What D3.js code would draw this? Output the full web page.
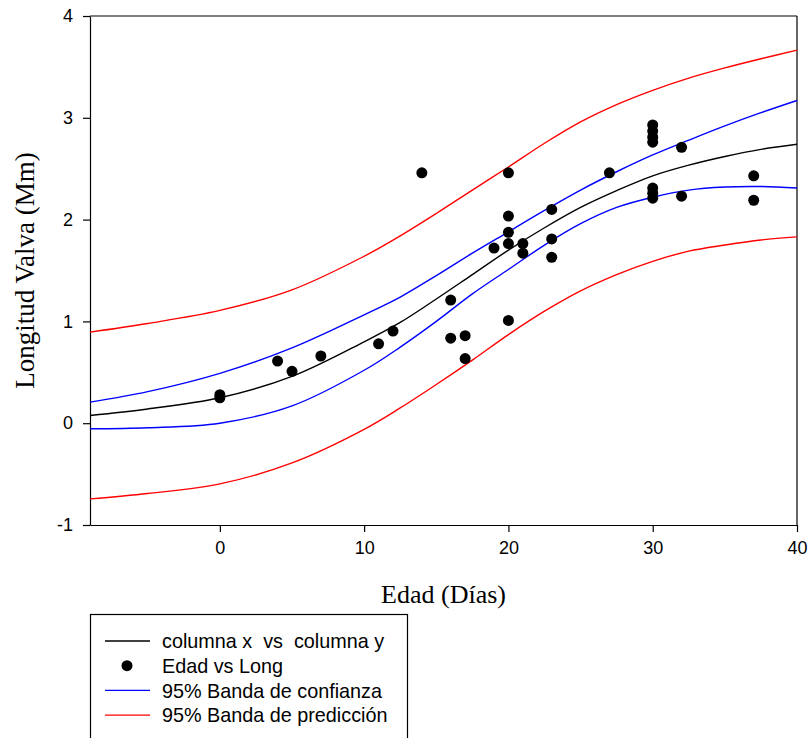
<!DOCTYPE html>
<html>
<head>
<meta charset="utf-8">
<script src="https://cdn.jsdelivr.net/npm/d3@7"></script>
<style>
  html, body { margin: 0; padding: 0; background: #fff; }
  svg { display: block; }
</style>
</head>
<body>
<svg id="chart" width="811" height="738"></svg>
<script>
// ---- Data ----
const xTicks = [0, 10, 20, 30, 40];
const yTicks = [-1, 0, 1, 2, 3, 4];

// Observed points: Edad vs Long
const edad = [0, 0, 4, 5, 7, 11, 12, 14, 16, 16, 17, 17, 19, 20, 20, 20, 20, 20, 21, 21,
              23, 23, 23, 27, 30, 30, 30, 30, 30, 30, 30, 32, 32, 37, 37];
const longitud = [0.28, 0.25, 0.61, 0.51, 0.66, 0.78, 0.905, 2.46, 1.21, 0.835, 0.86, 0.635, 1.72,
                  2.46, 2.035, 1.875, 1.765, 1.01, 1.765, 1.67,
                  2.10, 1.81, 1.63, 2.46, 2.93, 2.87, 2.81, 2.76, 2.31, 2.26, 2.21, 2.71, 2.23, 2.43, 2.19];

// Curves sampled at common x positions
const curveX =     [-9,    -5,    0,     5,     10,    12.5,  15,   17.5, 20,    22.5, 25,   27.5,  30,    32.5,  35,   37.5,  40];
const fitY =       [0.076, 0.14,  0.25,  0.46,  0.80,  0.99,  1.22, 1.46, 1.70,  1.92, 2.12, 2.285, 2.43,  2.535, 2.62, 2.69,  2.74];
const confUpper =  [0.207, 0.31,  0.49,  0.74,  1.065, 1.239, 1.45, 1.67, 1.88,  2.09, 2.29, 2.47,  2.635, 2.78,  2.92, 3.05,  3.17];
const confLower =  [-0.055,-0.045,0.0,   0.17,  0.52,  0.747, 1.0,  1.27, 1.51,  1.75, 1.96, 2.12,  2.22,  2.29,  2.32, 2.325, 2.31];
const predUpper =  [0.895, 0.98,  1.108, 1.31,  1.64,  1.84,  2.06, 2.29, 2.517, 2.75, 2.96, 3.13,  3.27,  3.39,  3.49, 3.58,  3.665];
const predLower =  [-0.743,-0.69, -0.596,-0.39, -0.06, 0.15,  0.38, 0.62, 0.87,  1.10, 1.30, 1.46,  1.59,  1.69,  1.75, 1.80,  1.83];

const legendLabels = ["columna x  vs  columna y", "Edad vs Long", "95% Banda de confianza", "95% Banda de predicción"];
const legendColors = ["#000000", "#000000", "#0000ff", "#ff0000"];

// ---- Drawing ----
const sansFont = "Arial, 'Liberation Sans', sans-serif";
const serifFont = "'Times New Roman', 'Liberation Serif', serif";

const svg = d3.select("#chart");
const x = d3.scaleLinear().domain([-9, 40]).range([90, 797]);
const y = d3.scaleLinear().domain([-1, 4]).range([525, 16]);

// frame (top and right)
svg.append("line").attr("x1", x(-9)).attr("x2", x(40)).attr("y1", y(4)).attr("y2", y(4))
  .attr("stroke", "#000").attr("stroke-width", 1.2);
svg.append("line").attr("x1", x(40)).attr("x2", x(40)).attr("y1", y(4)).attr("y2", y(-1))
  .attr("stroke", "#000").attr("stroke-width", 1.2);

// axes
const fmt = d => String(d);
const gx = svg.append("g").attr("transform", `translate(0,${y(-1)})`)
  .call(d3.axisBottom(x).tickValues(xTicks).tickSize(7).tickSizeOuter(0).tickPadding(9).tickFormat(fmt));
const gy = svg.append("g").attr("transform", `translate(${x(-9)},0)`)
  .call(d3.axisLeft(y).tickValues(yTicks).tickSize(7).tickSizeOuter(0).tickPadding(10).tickFormat(fmt));
[gx, gy].forEach(g => {
  g.selectAll("path, line").attr("stroke", "#000").attr("stroke-width", 1.2);
  g.selectAll("text").attr("font-family", sansFont).attr("font-size", 18).attr("fill", "#000");
});

// curves
const line = d3.line().x(d => x(d[0])).y(d => y(d[1])).curve(d3.curveCatmullRom.alpha(0.5));
const curves = [
  { ys: predUpper, color: "#ff0000" },
  { ys: predLower, color: "#ff0000" },
  { ys: confUpper, color: "#0000ff" },
  { ys: confLower, color: "#0000ff" },
  { ys: fitY, color: "#000000" }
];
curves.forEach(c => {
  svg.append("path")
    .datum(curveX.map((xv, i) => [xv, c.ys[i]]))
    .attr("d", line)
    .attr("fill", "none")
    .attr("stroke", c.color)
    .attr("stroke-width", 1.4);
});

// points
svg.append("g").selectAll("circle")
  .data(edad.map((e, i) => [e, longitud[i]]))
  .join("circle")
  .attr("cx", d => x(d[0]))
  .attr("cy", d => y(d[1]))
  .attr("r", 5.5)
  .attr("fill", "#000");

// axis titles
svg.append("text")
  .attr("x", (x(-9) + x(40)) / 2)
  .attr("y", 603)
  .attr("text-anchor", "middle")
  .attr("font-family", serifFont)
  .attr("font-size", 26)
  .text("Edad (Días)");
svg.append("text")
  .attr("transform", `translate(34,${(y(-1) + y(4)) / 2}) rotate(-90)`)
  .attr("text-anchor", "middle")
  .attr("font-family", serifFont)
  .attr("font-size", 27)
  .text("Longitud Valva (Mm)");

// legend
const lg = svg.append("g");
lg.append("rect").attr("x", 90.5).attr("y", 614.5).attr("width", 317).attr("height", 140)
  .attr("fill", "#fff").attr("stroke", "#000").attr("stroke-width", 1.2);
const rowY = d => 641 + d * 24.7;
legendLabels.forEach((lab, i) => {
  if (i === 1) {
    lg.append("circle").attr("cx", 127).attr("cy", rowY(i)).attr("r", 5.5).attr("fill", legendColors[i]);
  } else {
    lg.append("line").attr("x1", 105).attr("x2", 150).attr("y1", rowY(i)).attr("y2", rowY(i))
      .attr("stroke", legendColors[i]).attr("stroke-width", 1.4);
  }
  lg.append("text").attr("x", 162).attr("y", rowY(i)).attr("dy", "0.36em")
    .attr("font-family", sansFont).attr("font-size", 19.8).attr("fill", "#000")
    .attr("xml:space", "preserve").style("white-space", "pre")
    .text(lab);
});
</script>
</body>
</html>
